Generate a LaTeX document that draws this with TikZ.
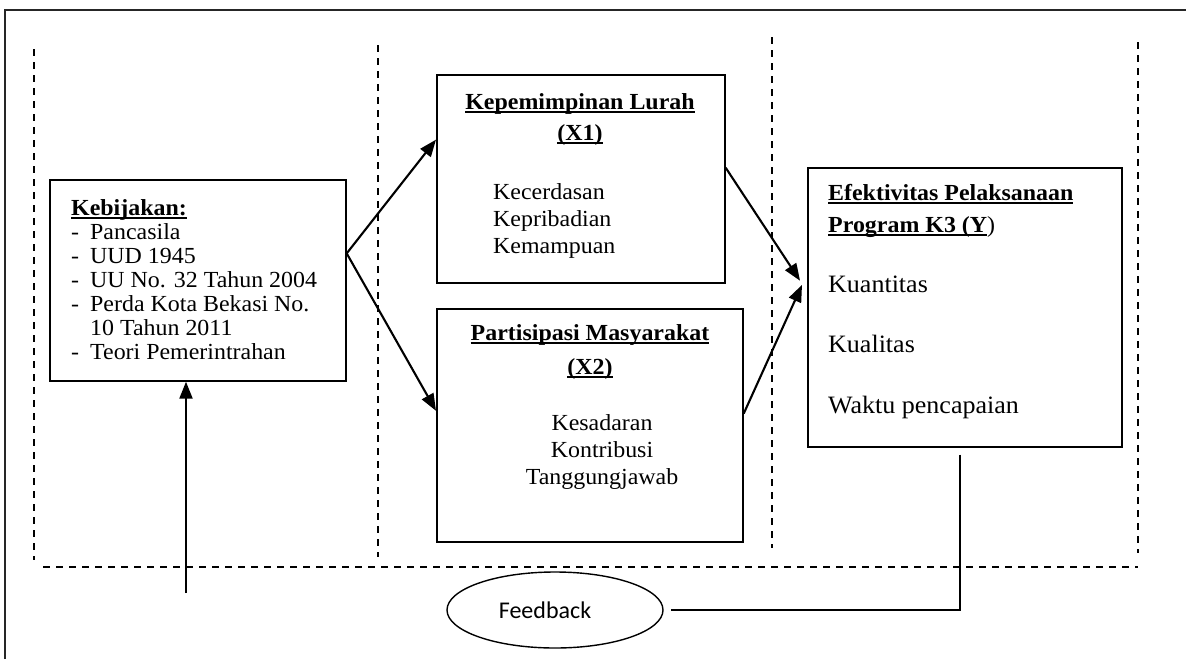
\documentclass[tikz,border=0pt]{standalone}
\usepackage{fontspec}
\setmainfont{Liberation Serif}[FakeStretch=1.04]
\newfontfamily\fbfont{Carlito}
\usetikzlibrary{arrows.meta,shapes.geometric,calc}
\newcommand\ulb[1]{\setbox0\hbox{#1}\rlap{\rule[-3.5pt]{\wd0}{1.8pt}}\box0}
\begin{document}
\begin{tikzpicture}[x=1pt,y=-1pt,
  box/.style={draw,line width=1.7pt,rectangle,inner sep=0,anchor=north west},
  txt/.style={inner sep=0,anchor=base west,font=\fontsize{23}{24}\selectfont},
  ctxt/.style={inner sep=0,anchor=base,font=\fontsize{23}{24}\selectfont},
  sep/.style={line width=1.4pt,dash pattern=on 7pt off 6pt},
  arr/.style={line width=2.1pt,-{Triangle[length=17pt,width=13pt]}},
  link/.style={line width=1.6pt}]
\useasboundingbox (0,0) rectangle (1186,659);

% outer frame (partly cut off)
\draw[line width=1.8pt,black!85] (5,659) -- (5,10) -- (1186,10);

% dashed separators
\draw[sep] (34,49) -- (34,560);
\draw[sep] (378,45) -- (378,557);
\draw[sep] (772,37) -- (772,548);
\draw[sep] (1138,42) -- (1138,553);
\draw[sep] (43,567) -- (1138,567);

% boxes
\node[box,minimum width=296pt,minimum height=201pt] (keb) at (49,179) {};
\node[box,minimum width=288pt,minimum height=208pt] (x1) at (436,74) {};
\node[box,minimum width=306pt,minimum height=233pt] (x2) at (436,308) {};
\node[box,minimum width=314pt,minimum height=279pt] (y) at (807,167) {};

% texts
\node[txt] (kebtxt) at (71,215) {\begin{tabular}[t]{@{}l@{}l@{}}
\multicolumn{2}{@{}l@{}}{\textbf{\ulb{Kebijakan:}}}\\
\makebox[19pt][l]{-}& Pancasila\\
\makebox[19pt][l]{-}& UUD 1945\\
\makebox[19pt][l]{-}& UU No. 32 Tahun 2004\\
\makebox[19pt][l]{-}& Perda Kota Bekasi No.\\
& 10 Tahun 2011\\
\makebox[19pt][l]{-}& Teori Pemerintrahan
\end{tabular}};

\node[ctxt] (x1title) at (580,109) {\begin{tabular}[t]{@{}c@{}}
\textbf{\ulb{Kepemimpinan Lurah}}\\[7pt]
\textbf{\ulb{(X1)}}
\end{tabular}};
\node[txt] (x1items) at (493,199) {\begin{tabular}[t]{@{}l@{}}
Kecerdasan\\[3pt] Kepribadian\\[3pt] Kemampuan
\end{tabular}};

\node[ctxt] (x2title) at (590,340) {\begin{tabular}[t]{@{}c@{}}
\textbf{\ulb{Partisipasi Masyarakat}}\\[10pt]
\textbf{\ulb{(X2)}}
\end{tabular}};
\node[ctxt] (x2items) at (602,430) {\begin{tabular}[t]{@{}c@{}}
Kesadaran\\[3pt] Kontribusi\\[3pt] Tanggungjawab
\end{tabular}};

\node[txt] (ytitle) at (828,200) {\begin{tabular}[t]{@{}l@{}}
\textbf{\ulb{Efektivitas Pelaksanaan}}\\[8pt]
\textbf{\ulb{Program K3 (Y}})
\end{tabular}};
\node[txt,font=\fontsize{25}{24}\selectfont] (yitems) at (828,292) {\begin{tabular}[t]{@{}l@{}}
Kuantitas\\[36pt] Kualitas\\[36pt] Waktu pencapaian
\end{tabular}};

% feedback
\node[ellipse,draw,line width=1.4pt,minimum width=216pt,minimum height=76pt,inner sep=0,
  font=\fbfont\fontsize{24}{24}\selectfont] (fb) at (555,610) {\hspace*{-20pt}Feedback};

% connectors
\coordinate (split) at ($(keb.north east)!0.367!(keb.south east)$);
\draw[arr] (split) -- ($(x1.north west)!0.313!(x1.south west)$);
\draw[arr] (split) -- ($(x2.north west)!0.438!(x2.south west)$);
\draw[arr] ($(x1.north east)!0.447!(x1.south east)$) -- ($(y.north west)!0.405!(y.south west)+(-7,0)$);
\draw[arr] ($(x2.north east)!0.45!(x2.south east)$) -- ($(y.north west)!0.42!(y.south west)+(-5,0)$);

\coordinate (src) at (186,593);
\draw[arr] (src) -- (src |- keb.south);

\coordinate (fbtop) at ($(y.south)+(-5,7)$);
\coordinate (fbcorner) at (fbtop |- fb.east);
\draw[link] (fbtop) -- (fbcorner) -- ([xshift=7pt]fb.east);
\end{tikzpicture}
\end{document}
